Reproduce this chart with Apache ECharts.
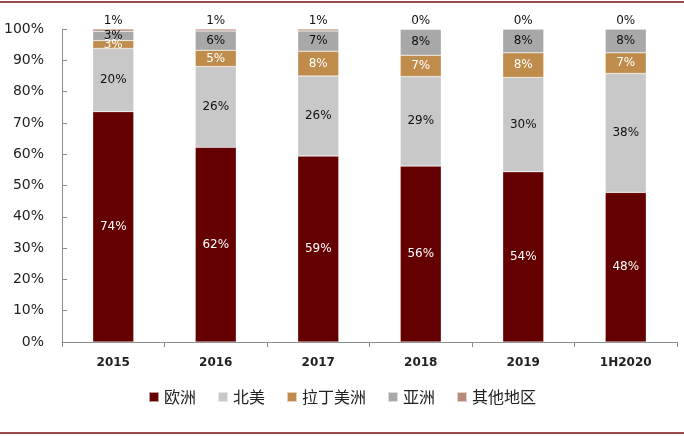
<!DOCTYPE html>
<html><head><meta charset="utf-8">
<script src="https://cdn.jsdelivr.net/npm/echarts@6/dist/echarts.min.js"></script>
<style>html,body{margin:0;padding:0;background:#fff}#c{width:684px;height:436px}</style>
</head><body><div id="c"></div>
<script>
const categories = ['2015','2016','2017','2018','2019','1H2020'];
const europe   = [73.6, 62.2, 59.4, 56.2, 54.4, 47.8];
const namerica = [20.2, 25.8, 25.6, 28.6, 30.1, 38.0];
const latam    = [2.5, 5.2, 7.9, 6.8, 7.9, 6.6];
const asia     = [3.0, 6.2, 6.5, 8.3, 7.6, 7.6];
const others   = [0.7, 0.6, 0.6, 0.1, 0.0, 0.0];
const yTicks = [0,10,20,30,40,50,60,70,80,90,100];

const fontCJK = '"Noto Sans CJK SC", sans-serif';
const fontLat = '"DejaVu Sans", "Noto Sans", sans-serif';
const fmt = p => Math.round(p.value) + '%';

function mk(name, data, color, labelColor, pos) {
  return {
    name, type: 'bar', stack: 'total', data, barWidth: '40%',
    itemStyle: { color, borderColor: 'rgba(255,255,255,0.6)', borderWidth: 0.5 },
    label: { show: true, position: pos || 'inside', formatter: fmt, color: labelColor,
             fontSize: 12, fontFamily: fontLat, distance: 2 }
  };
}

const chart = echarts.init(document.getElementById('c'));
chart.setOption({
  animation: false,
  grid: { left: 62, right: 7, top: 29, bottom: 94, containLabel: false },
  legend: {
    bottom: 26, left: 'center', itemWidth: 10, itemHeight: 10, itemGap: 21,
    icon: 'rect',
    textStyle: { fontFamily: fontCJK, fontSize: 16, color: '#222' },
    data: ['欧洲','北美','拉丁美洲','亚洲','其他地区']
  },
  xAxis: {
    type: 'category', data: categories,
    axisLine: { lineStyle: { color: '#8c8c8c' } },
    axisTick: { show: true, length: 5, lineStyle: { color: '#8c8c8c' } },
    axisLabel: { fontSize: 12, fontWeight: 'bold', color: '#222', fontFamily: fontLat, margin: 15 }
  },
  yAxis: {
    type: 'value', min: 0, max: 100, interval: 10,
    axisLine: { show: true, lineStyle: { color: '#8c8c8c' } },
    axisTick: { show: true, inside: true, length: 5, lineStyle: { color: '#8c8c8c' } },
    splitLine: { show: false },
    axisLabel: { formatter: v => yTicks.includes(v) ? v + '%' : '', fontSize: 14,
                 color: '#222', fontFamily: fontLat, margin: 18 }
  },
  series: [
    mk('欧洲', europe, '#640000', '#fff'),
    mk('北美', namerica, '#C8C8C8', '#111'),
    mk('拉丁美洲', latam, '#C08C4C', '#fff'),
    mk('亚洲', asia, '#A8A8A8', '#111'),
    mk('其他地区', others, '#B88A7A', '#111', 'top')
  ],
  graphic: [
    { type: 'line', shape: { x1: 0, y1: 2, x2: 684, y2: 2 }, style: { stroke: '#7a1010', lineWidth: 1.5 } },
    { type: 'line', shape: { x1: 0, y1: 433, x2: 684, y2: 433 }, style: { stroke: '#7a1010', lineWidth: 1.5 } }
  ]
});
</script></body></html>
